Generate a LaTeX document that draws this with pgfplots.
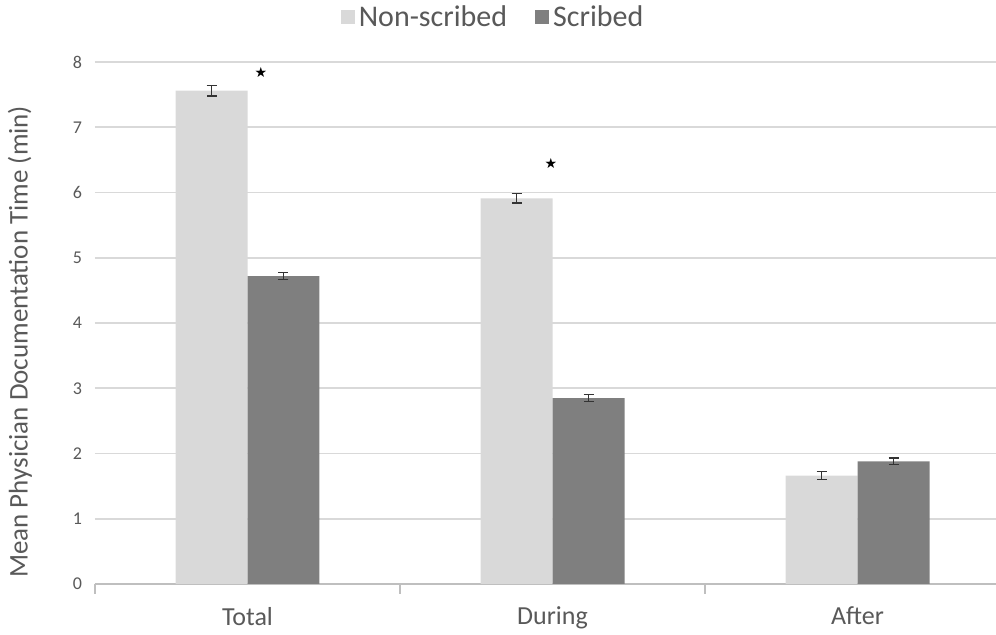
\documentclass[border=0pt]{standalone}
\usepackage{pgfplots}
\pgfplotsset{compat=1.18}
\usepackage{fontspec}
\setmainfont{Carlito}
\newfontfamily\symfont{DejaVu Sans}
\definecolor{nonscr}{HTML}{D9D9D9}
\definecolor{scr}{HTML}{7F7F7F}
\definecolor{txt}{HTML}{595959}
\definecolor{gridc}{HTML}{D9D9D9}
\definecolor{axc}{HTML}{BFBFBF}
\begin{document}
\begin{tikzpicture}
\begin{axis}[
  at={(0,0)}, anchor=south west,
  scale only axis,
  width=450.5pt, height=261pt,
  xmin=-0.5, xmax=2.454,
  ymin=0, ymax=8,
  ytick={0,1,...,8},
  % category separators
  xtick={-0.5,0.5,1.5},
  xticklabels={},
  xtick style={axc, line width=0.6pt},
  xtick align=outside,
  major tick length=5pt,
  % category names
  extra x ticks={0,1,2},
  extra x tick labels={Total,During,After},
  extra x tick style={major tick length=0pt, grid=none},
  ytick style={draw=none},
  axis x line*=bottom,
  axis y line*=left,
  y axis line style={draw=none},
  x axis line style={axc, line width=0.8pt},
  ymajorgrids, xmajorgrids=false,
  grid style={gridc, line width=0.8pt},
  /pgf/number format/assume math mode=true,
  tick label style={txt},
  yticklabel style={font=\fontsize{9}{10}\selectfont, xshift=-3pt},
  xticklabel style={font=\fontsize{13}{15}\selectfont, yshift=-8pt},
  every axis y label/.style={at={(axis description cs:-0.0832,0.464)}, rotate=90, anchor=center, font=\fontsize{13.5}{15}\selectfont, color=txt},
  ylabel={Mean Physician Documentation Time (min)},
  ybar, bar width=0.236,
  legend columns=2,
  legend style={draw=none, at={(axis description cs:0.443,1)}, anchor=center, yshift=22pt,
    font=\fontsize{15}{17}\selectfont, text=txt, /tikz/every even column/.append style={column sep=12pt}},
  legend image code/.code={\fill[#1] (0pt,-3.2pt) rectangle (7pt,3.8pt);},
  error bars/y dir=both, error bars/y explicit,
  error bars/error bar style={black!80, line width=0.6pt},
  error bars/error mark options={rotate=90, mark size=2.5pt, black!80, line width=0.6pt},
]
\addplot[fill=nonscr, draw=none, bar shift=-0.118] coordinates {
  (0,7.56) +- (0,0.08)
  (1,5.91) +- (0,0.07)
  (2,1.66) +- (0,0.06)
};
\addplot[fill=scr, draw=none, bar shift=0.118] coordinates {
  (0,4.72) +- (0,0.05)
  (1,2.85) +- (0,0.05)
  (2,1.88) +- (0,0.05)
};
\legend{Non-scribed,Scribed}
% significance markers
\addplot[ybar=0pt, bar shift=0, draw=none, fill=none, forget plot, only marks,
  mark=text, text mark={\symfont\fontsize{7}{8}\selectfont ★}, error bars/y dir=none]
  coordinates {(0.044,7.84) (0.995,6.45)};
\end{axis}
\pgfresetboundingbox
\useasboundingbox (-47.5pt,-25.5pt) rectangle (450.5pt,292pt);
\end{tikzpicture}
\end{document}
